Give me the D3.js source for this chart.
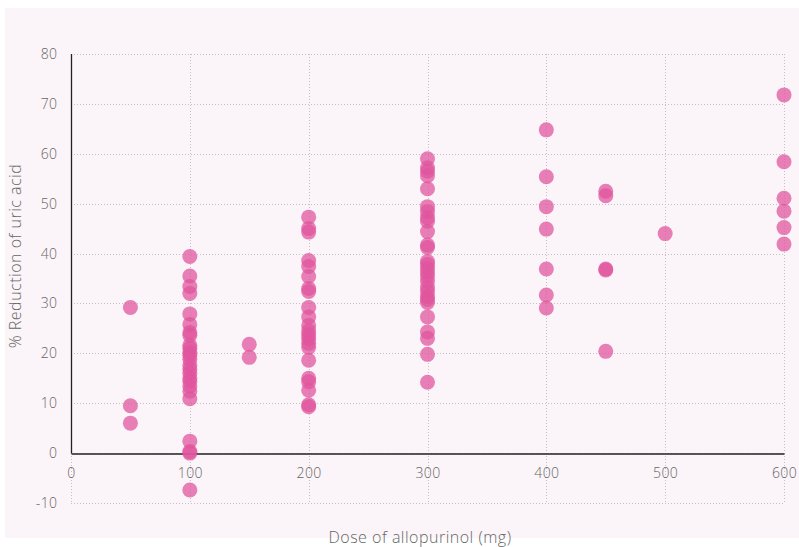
<!DOCTYPE html>
<html>
<head>
<meta charset="utf-8">
<script src="https://cdn.jsdelivr.net/npm/d3@7"></script>
<style>
  html, body { margin: 0; padding: 0; background: #fff; }
  svg text { font-family: "Open Sans", "Noto Sans", sans-serif; font-weight: 300; fill: #666; }
</style>
</head>
<body>
<svg id="chart" width="799" height="547"></svg>
<script>
// doses (mg) and % reduction of uric acid, one array per dose group
const doses = [50, 100, 150, 200, 300, 400, 450, 500, 600];
const reductions = {
  50: [29.2, 9.5, 6.0],
  100: [39.4, 35.5, 33.4, 32.0, 27.9, 25.8, 24.2, 23.6, 21.6, 21.0, 20.2, 19.6, 18.8,
        17.6, 16.8, 16.0, 15.0, 14.4, 13.4, 12.4, 10.9, 2.4, 0.3, 0.0, -7.4],
  150: [21.8, 19.2],
  200: [47.3, 45.0, 44.3, 38.6, 37.4, 35.4, 33.0, 32.4, 29.2, 27.3, 25.6, 24.5, 23.7,
        22.9, 22.0, 21.2, 18.6, 15.0, 14.3, 12.6, 9.7, 9.3],
  300: [59.0, 57.2, 56.5, 55.6, 53.0, 49.4, 48.4, 47.2, 46.5, 44.4, 41.7, 41.2, 38.4,
        37.8, 37.0, 36.2, 35.4, 34.4, 33.2, 32.4, 31.4, 30.8, 30.2, 27.3, 24.3, 23.0, 19.8, 14.2],
  400: [64.8, 55.4, 49.4, 44.9, 36.9, 31.7, 29.1],
  450: [52.5, 51.6, 36.9, 36.7, 20.4],
  500: [44.0],
  600: [71.8, 58.4, 51.1, 48.5, 45.2, 41.9]
};
const xTicks = [0, 100, 200, 300, 400, 500, 600];
const yTicks = [-10, 0, 10, 20, 30, 40, 50, 60, 70, 80];
const xTitle = 'Dose of allopurinol (mg)';
const yTitle = '% Reduction of uric acid';

const points = [];
doses.forEach(d => reductions[d].forEach(v => points.push({ dose: d, value: v })));

const svg = d3.select('#chart');

svg.append('rect')
  .attr('x', 5).attr('y', 8)
  .attr('width', 794).attr('height', 530)
  .attr('fill', '#fbf4f8');

const x = d3.scaleLinear().domain([0, 600]).range([71, 784]);
const y = d3.scaleLinear().domain([-10, 80]).range([503, 54]);

// dotted grid
const grid = svg.append('g')
  .attr('stroke', '#c6bfc4')
  .attr('stroke-width', 1)
  .attr('stroke-dasharray', '1,2')
  .attr('shape-rendering', 'crispEdges');

grid.selectAll('line.h')
  .data(yTicks)
  .enter().append('line')
  .attr('class', 'h')
  .attr('x1', x(0)).attr('x2', x(600))
  .attr('y1', d => Math.round(y(d)) + 0.5)
  .attr('y2', d => Math.round(y(d)) + 0.5);

grid.selectAll('line.v')
  .data(xTicks)
  .enter().append('line')
  .attr('class', 'v')
  .attr('y1', y(80)).attr('y2', y(-10))
  .attr('x1', d => Math.round(x(d)) + 0.5)
  .attr('x2', d => Math.round(x(d)) + 0.5);

const tickFmt = d => String(d); // plain hyphen for negatives, as in the original

// solid axes
svg.append('g')
  .attr('transform', 'translate(0,' + (Math.round(y(0)) + 0.5) + ')')
  .call(d3.axisBottom(x).tickValues(xTicks).tickSize(0).tickPadding(15).tickFormat(tickFmt))
  .call(g => g.select('.domain').attr('stroke', '#222').attr('stroke-width', 1.3))
  .call(g => g.selectAll('text').attr('font-size', 14).attr('fill', '#666')
    .style('font-family', '"Open Sans", sans-serif').style('letter-spacing', '0.4px'));

svg.append('g')
  .attr('transform', 'translate(' + (Math.round(x(0)) + 0.5) + ',0)')
  .call(d3.axisLeft(y).tickValues(yTicks).tickSize(0).tickPadding(14).tickFormat(tickFmt))
  .call(g => g.select('.domain').remove())
  .call(g => g.selectAll('text').attr('font-size', 14).attr('fill', '#666')
    .style('font-family', '"Open Sans", sans-serif').style('letter-spacing', '0.4px'));

svg.append('line')
  .attr('x1', Math.round(x(0)) + 0.5).attr('x2', Math.round(x(0)) + 0.5)
  .attr('y1', y(80)).attr('y2', Math.round(y(0)) + 0.5)
  .attr('stroke', '#222').attr('stroke-width', 1.3);

// points
svg.append('g')
  .selectAll('circle')
  .data(points)
  .enter().append('circle')
  .attr('cx', d => x(d.dose))
  .attr('cy', d => y(d.value))
  .attr('r', 7.5)
  .attr('fill', '#e0559e')
  .attr('fill-opacity', 0.74);

// titles
svg.append('text')
  .attr('x', 420).attr('y', 543)
  .attr('text-anchor', 'middle')
  .attr('font-size', 16)
  .style('letter-spacing', '0.5px')
  .text(xTitle);

svg.append('text')
  .attr('transform', 'translate(21,256) rotate(-90)')
  .attr('text-anchor', 'middle')
  .attr('font-size', 16)
  .style('letter-spacing', '0.5px')
  .text(yTitle);
</script>
</body>
</html>
